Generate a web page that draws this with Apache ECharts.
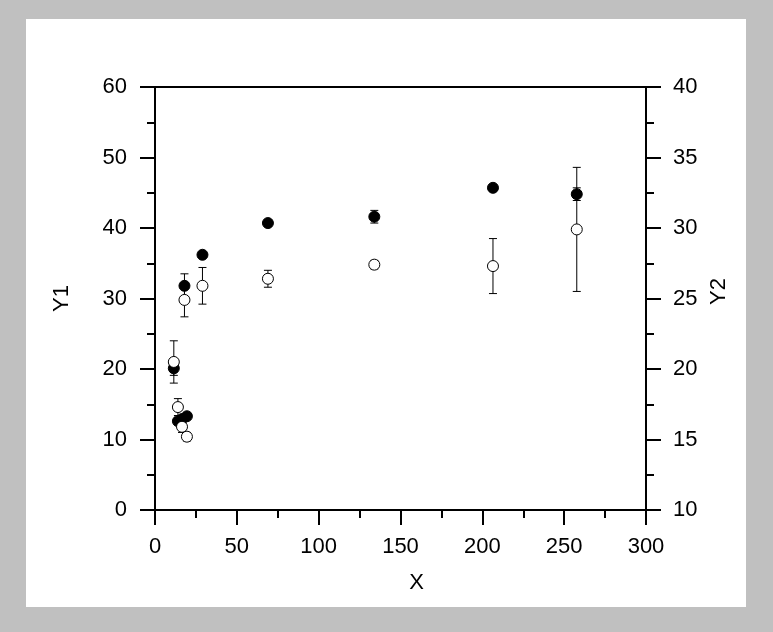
<!DOCTYPE html>
<html>
<head>
<meta charset="utf-8">
<script src="https://cdn.jsdelivr.net/npm/echarts@6/dist/echarts.min.js"></script>
<style>
  html, body { margin: 0; padding: 0; background: #c0c0c0; }
  #main { width: 773px; height: 632px; }
</style>
</head>
<body>
<div id="main"></div>
<script>
// data
var xValues = [11.5, 14, 16.5, 18, 19.5, 29, 69, 134, 206.5, 257.7];
var y1Values = [20.1, 12.6, 12.9, 31.8, 13.3, 36.2, 40.7, 41.6, 45.7, 44.8];
var y1Errors = [1.0, 0.4, 0.4, 1.7, 0.4, 0.3, 0.3, 0.9, 0.3, 0.9];
var y2Values = [20.5, 17.3, 15.9, 24.9, 15.2, 25.9, 26.4, 27.4, 27.3, 29.9];
var y2Errors = [1.5, 0.6, 0.4, 1.2, 0.3, 1.3, 0.6, 0.3, 1.95, 4.4];
var xTicks = [0, 50, 100, 150, 200, 250, 300];
var y1Ticks = [0, 10, 20, 30, 40, 50, 60];
var y2Ticks = [10, 15, 20, 25, 30, 35, 40];

var font = 'Liberation Sans, Arial, sans-serif';

function pairs(ys) {
  return xValues.map(function (x, i) { return [x, ys[i]]; });
}
function errData(ys, es) {
  return xValues.map(function (x, i) { return [x, ys[i] - es[i], ys[i] + es[i]]; });
}

// vertical error bar with caps
function renderErr(params, api) {
  var x = api.value(0);
  var lo = api.coord([x, api.value(1)]);
  var hi = api.coord([x, api.value(2)]);
  var w = 4;
  var st = { stroke: '#000', lineWidth: 1 };
  return {
    type: 'group',
    children: [
      { type: 'line', shape: { x1: hi[0], y1: hi[1], x2: lo[0], y2: lo[1] }, style: st },
      { type: 'line', shape: { x1: hi[0] - w, y1: hi[1], x2: hi[0] + w, y2: hi[1] }, style: st },
      { type: 'line', shape: { x1: lo[0] - w, y1: lo[1], x2: lo[0] + w, y2: lo[1] }, style: st }
    ]
  };
}

function axisCommon(ticks) {
  return {
    min: ticks[0],
    max: ticks[ticks.length - 1],
    interval: ticks[1] - ticks[0],
    axisLine: { show: true, lineStyle: { color: '#000', width: 2 } },
    axisTick: { show: true, inside: false, length: 15, lineStyle: { color: '#000', width: 2 } },
    minorTick: { show: true, splitNumber: 2, length: 8, lineStyle: { color: '#000', width: 2 } },
    splitLine: { show: false },
    axisLabel: { color: '#000', fontSize: 22, fontFamily: font },
    nameTextStyle: { color: '#000', fontSize: 22, fontFamily: font },
    nameLocation: 'middle'
  };
}

var chart = echarts.init(document.getElementById('main'));

var xAxis = axisCommon(xTicks);
xAxis.type = 'value';
xAxis.name = 'X';
xAxis.nameGap = 62;
xAxis.nameTextStyle.padding = [0, 0, 0, 32];
xAxis.axisLabel.margin = 26;

var yAxis1 = axisCommon(y1Ticks);
yAxis1.type = 'value';
yAxis1.name = 'Y1';
yAxis1.position = 'left';
yAxis1.nameGap = 82;
yAxis1.nameRotate = 90;
yAxis1.axisLabel.margin = 28;

var yAxis2 = axisCommon(y2Ticks);
yAxis2.type = 'value';
yAxis2.name = 'Y2';
yAxis2.position = 'right';
yAxis2.nameGap = 62;
yAxis2.nameRotate = 90;
yAxis2.nameTextStyle.padding = [0, 0, 0, 14];
yAxis2.axisLabel.margin = 27;

chart.setOption({
  backgroundColor: '#c0c0c0',
  animation: false,
  graphic: [{
    type: 'rect',
    z: -10,
    shape: { x: 26, y: 19, width: 720, height: 588 },
    style: { fill: '#fff' }
  }],
  grid: {
    left: 155, top: 87, right: 127, bottom: 122,
    show: true, backgroundColor: 'transparent',
    borderColor: '#000', borderWidth: 2
  },
  xAxis: xAxis,
  yAxis: [yAxis1, yAxis2],
  series: [
    {
      name: 'Y1 err', type: 'custom', yAxisIndex: 0,
      renderItem: renderErr, data: errData(y1Values, y1Errors), z: 2
    },
    {
      name: 'Y2 err', type: 'custom', yAxisIndex: 1,
      renderItem: renderErr, data: errData(y2Values, y2Errors), z: 2
    },
    {
      name: 'Y1', type: 'scatter', yAxisIndex: 0,
      symbol: 'circle', symbolSize: 11,
      itemStyle: { color: '#000', borderColor: '#000', borderWidth: 1, opacity: 1 },
      data: pairs(y1Values), z: 3
    },
    {
      name: 'Y2', type: 'scatter', yAxisIndex: 1,
      symbol: 'circle', symbolSize: 11,
      itemStyle: { color: '#fff', borderColor: '#000', borderWidth: 1, opacity: 1 },
      data: pairs(y2Values), z: 4
    }
  ]
});
</script>
</body>
</html>
